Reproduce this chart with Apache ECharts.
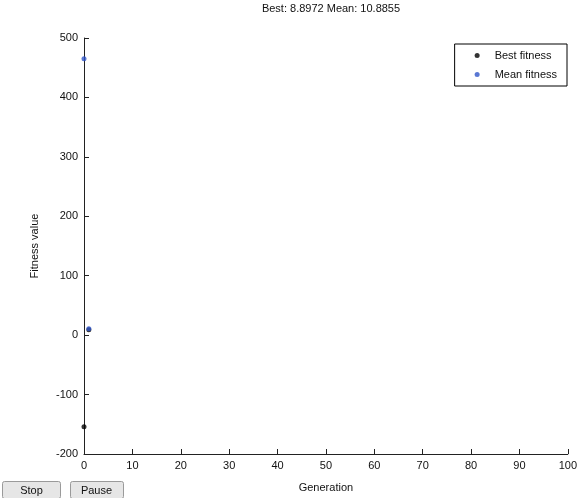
<!DOCTYPE html>
<html>
<head>
<meta charset="utf-8">
<script src="https://cdn.jsdelivr.net/npm/echarts@6/dist/echarts.min.js"></script>
<style>
  html, body { margin: 0; padding: 0; background: #fff; }
  #chart { width: 580px; height: 498px; }
</style>
</head>
<body>
<div id="chart"></div>
<script>
// generation numbers and fitness values
const generations = [0, 1]
const bestFitness = [-154, 8.8972]
const meanFitness = [465, 10.8855]
const xTicks = { min: 0, max: 100, step: 10 }
const yTicks = { min: -200, max: 500, step: 100 }
const titleText = 'Best: 8.8972 Mean: 10.8855'

const font = 'Liberation Sans, Arial, sans-serif'
const chart = echarts.init(document.getElementById('chart'))

const axisCommon = {
  axisLine: { show: true, onZero: false, lineStyle: { color: '#222', width: 1 } },
  axisTick: { show: true, inside: true, length: 5, lineStyle: { color: '#222' } },
  splitLine: { show: false },
  axisLabel: { color: '#111', fontFamily: font, fontSize: 11 },
  nameTextStyle: { color: '#111', fontFamily: font, fontSize: 11 }
}

chart.setOption({
  animation: false,
  title: {
    text: titleText,
    left: 326,
    textAlign: 'center',
    top: -2,
    textStyle: { fontFamily: font, fontSize: 11, fontWeight: 'normal', color: '#111' }
  },
  grid: { left: 84, right: 11, top: 38, bottom: 43 },
  legend: {
    orient: 'vertical',
    right: 13,
    top: 44,
    borderColor: '#000',
    borderWidth: 1,
    padding: [6, 10, 6, 20],
    itemGap: 8,
    itemWidth: 25,
    itemHeight: 5,
    itemTextGap: 14,
    textStyle: { fontFamily: font, fontSize: 11, color: '#111' },
    data: [
      { name: 'Best fitness', icon: 'circle' },
      { name: 'Mean fitness', icon: 'circle' }
    ]
  },
  xAxis: Object.assign({}, axisCommon, {
    type: 'value',
    min: xTicks.min,
    max: xTicks.max,
    interval: xTicks.step,
    name: 'Generation',
    nameLocation: 'middle',
    nameGap: 28,
    axisLabel: Object.assign({}, axisCommon.axisLabel, { margin: 6 })
  }),
  yAxis: Object.assign({}, axisCommon, {
    type: 'value',
    min: yTicks.min,
    max: yTicks.max,
    interval: yTicks.step,
    name: 'Fitness value',
    nameLocation: 'middle',
    nameGap: 44,
    axisLabel: Object.assign({}, axisCommon.axisLabel, { margin: 6 })
  }),
  series: [
    {
      name: 'Best fitness',
      type: 'scatter',
      symbol: 'circle',
      symbolSize: 5,
      itemStyle: { color: '#000' },
      data: generations.map((g, i) => [g, bestFitness[i]])
    },
    {
      name: 'Mean fitness',
      type: 'scatter',
      symbol: 'circle',
      symbolSize: 5,
      itemStyle: { color: '#2f55c8' },
      data: generations.map((g, i) => [g, meanFitness[i]])
    }
  ],
  graphic: [
    {
      type: 'group',
      left: 2,
      top: 481,
      children: [
        {
          type: 'rect',
          shape: { x: 0, y: 0, width: 58, height: 17, r: 2 },
          style: { fill: '#e6e6e6', stroke: '#9a9a9a', lineWidth: 1 }
        },
        {
          type: 'text',
          x: 29,
          y: 9,
          style: { text: 'Stop', fill: '#111', font: '11px ' + font, align: 'center', verticalAlign: 'middle' }
        }
      ]
    },
    {
      type: 'group',
      left: 70,
      top: 481,
      children: [
        {
          type: 'rect',
          shape: { x: 0, y: 0, width: 53, height: 17, r: 2 },
          style: { fill: '#e6e6e6', stroke: '#9a9a9a', lineWidth: 1 }
        },
        {
          type: 'text',
          x: 26,
          y: 9,
          style: { text: 'Pause', fill: '#111', font: '11px ' + font, align: 'center', verticalAlign: 'middle' }
        }
      ]
    }
  ]
})
</script>
</body>
</html>
